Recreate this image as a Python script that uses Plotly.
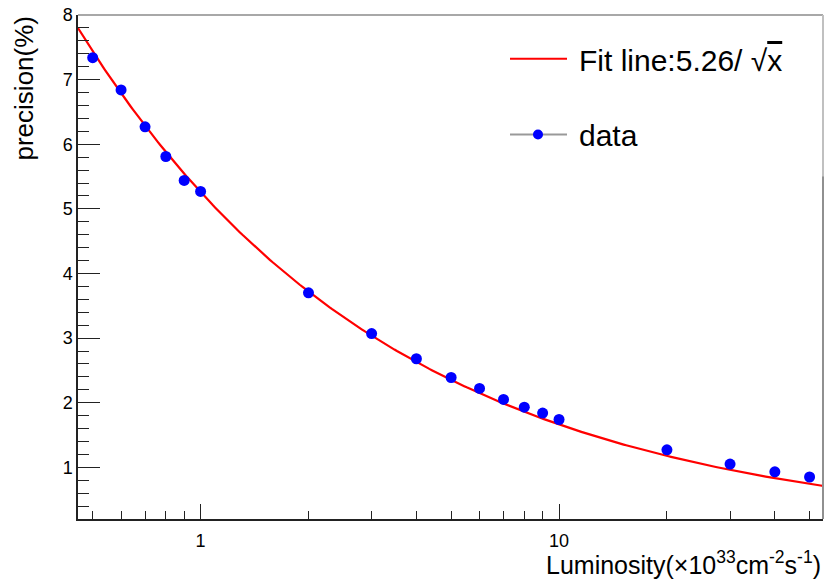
import numpy as np
import plotly.graph_objects as go

# Measured precision vs. luminosity
luminosity = [0.5, 0.6, 0.7, 0.8, 0.9, 1, 2, 3, 4, 5, 6, 7, 8, 9, 10, 20, 30, 40, 50]
precision = [7.34, 6.84, 6.27, 5.81, 5.44, 5.27, 3.70, 3.07, 2.68, 2.39, 2.22,
             2.05, 1.93, 1.84, 1.74, 1.27, 1.05, 0.93, 0.85]

# Fit: precision = A / sqrt(L)
fit_coef = 5.26
x_range = [0.455, 54.5]
y_range = [0.2, 8.0]

major_x = [1, 10]
minor_x = [0.5, 0.6, 0.7, 0.8, 0.9, 2, 3, 4, 5, 6, 7, 8, 9, 20, 30, 40, 50]

FONT = "Liberation Sans, Arial, Helvetica, sans-serif"

fit_x = np.logspace(np.log10(x_range[0]), np.log10(x_range[1]), 300)
fit_y = fit_coef / np.sqrt(fit_x)

fig = go.Figure()
fig.add_trace(go.Scatter(x=fit_x, y=fit_y, mode="lines",
                         line=dict(color="#ff0000", width=2.2), showlegend=False,
                         hoverinfo="skip"))
fig.add_trace(go.Scatter(x=luminosity, y=precision, mode="markers",
                         marker=dict(color="#0000ff", size=11), showlegend=False))

fig.update_layout(
    width=828, height=580,
    margin=dict(l=78, r=5, t=13, b=61),
    paper_bgcolor="white", plot_bgcolor="white",
    font=dict(family=FONT, color="black", size=18),
    showlegend=False,
    xaxis=dict(
        type="log", range=[np.log10(x_range[0]), np.log10(x_range[1])],
        tickmode="array", tickvals=major_x, ticktext=[str(v) for v in major_x],
        ticks="inside", ticklen=15, tickwidth=1, tickcolor="#222",
        showline=True, linecolor="#222", linewidth=1.5,
        showgrid=False, zeroline=False,
        ticklabelstandoff=5,
        tickfont=dict(size=18),
        minor=dict(tickmode="array", tickvals=minor_x, ticks="inside",
                   ticklen=8, tickwidth=1, tickcolor="#222", showgrid=False),
    ),
    yaxis=dict(
        range=y_range, tickmode="array", tickvals=list(range(1, 9)),
        ticks="inside", ticklen=22, tickwidth=1, tickcolor="#222",
        showline=True, linecolor="#222", linewidth=1.5,
        showgrid=False, zeroline=False,
        tickfont=dict(size=18),
        minor=dict(dtick=0.2, tick0=0, ticks="inside", ticklen=11,
                   tickwidth=1, tickcolor="#222", showgrid=False),
    ),
)

# Frame on the top and right sides
fig.add_shape(type="line", xref="paper", yref="paper", x0=0, x1=1, y0=1, y1=1,
              line=dict(color="#a8a8a8", width=2))
fig.add_shape(type="line", xref="paper", yref="paper", x0=1, x1=1, y0=1, y1=0.68,
              line=dict(color="#c0c0c0", width=2))
fig.add_shape(type="line", xref="paper", yref="paper", x0=1, x1=1, y0=0.68, y1=0,
              line=dict(color="#909090", width=2))

# Axis titles
fig.add_annotation(text="Luminosity(×10<sup>33</sup>cm<sup>-2</sup>s<sup>-1</sup>)",
                   xref="paper", yref="paper", x=1, y=0, xanchor="right", yanchor="top",
                   yshift=-26, showarrow=False, font=dict(size=25))
fig.add_annotation(text="precision(%)", textangle=-90,
                   xref="paper", yref="paper", x=0, y=1, xanchor="center", yanchor="top",
                   xshift=-55, yshift=1, showarrow=False, font=dict(size=26))

# Legend
px_w = 828 - 78 - 5
px_h = 580 - 13 - 61


def px_to_paper(px, py):
    return (px - 78) / px_w, (580 - 61 - py) / px_h


lx0, ly0 = px_to_paper(510, 57)
lx1, _ = px_to_paper(567, 57)
fig.add_shape(type="line", xref="paper", yref="paper", x0=lx0, x1=lx1, y0=ly0, y1=ly0,
              line=dict(color="#ff0000", width=2))
tx, ty = px_to_paper(577, 59)
fig.add_annotation(text="Fit line:5.26/ √<span style=\"text-decoration:overline\">x</span>",
                   xref="paper", yref="paper", x=tx, y=ty,
                   xanchor="left", yanchor="middle", showarrow=False, font=dict(size=30))

dx0, dy0 = px_to_paper(510, 133)
dx1, _ = px_to_paper(567, 133)
fig.add_shape(type="line", xref="paper", yref="paper", x0=dx0, x1=dx1, y0=dy0, y1=dy0,
              line=dict(color="#999999", width=2))
cx, cy = px_to_paper(538, 133)
fig.add_shape(type="circle", xref="paper", yref="paper", xsizemode="pixel", ysizemode="pixel",
              xanchor=cx, yanchor=cy, x0=-5, x1=5, y0=-5, y1=5,
              fillcolor="#0000ff", line=dict(color="#0000ff", width=0))
tx2, ty2 = px_to_paper(577, 134)
fig.add_annotation(text="data", xref="paper", yref="paper", x=tx2, y=ty2,
                   xanchor="left", yanchor="middle", showarrow=False, font=dict(size=30))

fig.write_html("out.html")
